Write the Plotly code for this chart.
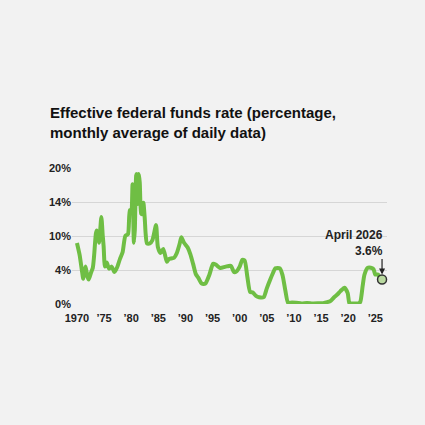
import plotly.graph_objects as go

# Effective federal funds rate, key monthly observations (percent)
dates = [
    "1970-01", "1970-07", "1970-12", "1971-03", "1971-05", "1971-08", "1971-12", "1972-03",
    "1972-08", "1972-12", "1973-03", "1973-07", "1973-09", "1973-12", "1974-02", "1974-07",
    "1974-10", "1974-12", "1975-03", "1975-07", "1975-12", "1976-06", "1976-12", "1977-06",
    "1977-12", "1978-06", "1978-12", "1979-06", "1979-10", "1980-01", "1980-04", "1980-07",
    "1980-09", "1980-12", "1981-01", "1981-03", "1981-06", "1981-08", "1981-11", "1982-01",
    "1982-04", "1982-07", "1982-09", "1982-12", "1983-06", "1983-12", "1984-08", "1984-12",
    "1985-06", "1985-12", "1986-08", "1986-12", "1987-06", "1987-12", "1988-06", "1988-12",
    "1989-04", "1989-10", "1990-06", "1990-12", "1991-06", "1991-12", "1992-06", "1993-01",
    "1993-09", "1994-06", "1995-02", "1995-08", "1996-06", "1997-06", "1998-06", "1998-12",
    "1999-06", "2000-01", "2000-07", "2000-12", "2001-06", "2001-12", "2002-06", "2003-01",
    "2003-08", "2004-06", "2005-01", "2005-08", "2006-03", "2006-08", "2007-06", "2007-12",
    "2008-06", "2008-12", "2009-06", "2010-06", "2011-06", "2012-06", "2013-06", "2014-06",
    "2015-06", "2015-12", "2016-09", "2017-06", "2018-01", "2018-08", "2019-05", "2019-12",
    "2020-04", "2020-10", "2021-06", "2021-12", "2022-04", "2022-09", "2023-01", "2023-08",
    "2024-03", "2024-09", "2025-01", "2025-07", "2025-11", "2026-04",
]
rates = [
    8.98, 7.2, 4.9, 3.7, 4.6, 5.5, 4.1, 3.6,
    4.6, 5.3, 7.1, 10.4, 10.8, 9.9, 9.0, 12.8,
    10.1, 8.5, 5.5, 6.1, 5.2, 5.5, 4.7, 5.4,
    6.6, 7.6, 10.0, 10.3, 13.8, 13.8, 17.6, 9.0,
    10.9, 18.9, 19.1, 14.7, 19.1, 17.8, 13.3, 13.2,
    14.9, 12.6, 10.3, 8.9, 8.9, 9.4, 11.6, 8.4,
    7.5, 8.1, 6.2, 6.6, 6.7, 6.8, 7.5, 8.8,
    9.8, 9.0, 8.3, 7.3, 5.9, 4.4, 3.8, 3.0,
    3.0, 4.3, 5.9, 5.8, 5.3, 5.5, 5.6, 4.7,
    4.8, 5.5, 6.5, 6.4, 4.0, 1.8, 1.7, 1.2,
    1.0, 1.0, 2.3, 3.5, 4.6, 5.25, 5.25, 4.2,
    2.0, 0.16, 0.2, 0.18, 0.09, 0.16, 0.09, 0.1,
    0.13, 0.24, 0.4, 1.0, 1.4, 1.9, 2.4, 1.6,
    0.05, 0.09, 0.08, 0.08, 0.33, 2.6, 4.3, 5.3,
    5.33, 5.13, 4.33, 4.33, 3.9, 3.6,
]

tick_vals = ["1970-01-01", "1975-01-01", "1980-01-01", "1985-01-01", "1990-01-01", "1995-01-01",
             "2000-01-01", "2005-01-01", "2010-01-01", "2015-01-01", "2020-01-01", "2025-01-01"]
tick_text = ["1970", "’75", "’80", "’85", "’90", "’95", "’00", "’05", "’10", "’15", "’20", "’25"]
y_vals = [0, 5, 10, 15, 20]
y_text = ["0%", "4%", "10%", "14%", "20%"]

green = "#6fbe44"
bg = "#f2f2f2"
font_family = "Liberation Sans Narrow, Arial Narrow, Liberation Sans, sans-serif"

fig = go.Figure()
fig.add_trace(go.Scatter(
    x=dates, y=rates, mode="lines",
    line=dict(color=green, width=4, shape="spline", smoothing=0.6),
    hoverinfo="skip", cliponaxis=False,
))
fig.add_trace(go.Scatter(
    x=[dates[-1]], y=[rates[-1]], mode="markers",
    marker=dict(size=9, color="#b9d9a0", line=dict(color="#333333", width=1.5)),
    hoverinfo="skip", cliponaxis=False,
))

fig.update_layout(
    width=425, height=425,
    margin=dict(l=72, r=38, t=168, b=121),
    paper_bgcolor=bg, plot_bgcolor=bg,
    showlegend=False,
    font=dict(family=font_family, color="#222222", size=11),
    title=dict(
        text="<b>Effective federal funds rate (percentage,<br>monthly average of daily data)</b>",
        x=50 / 425, xref="container", xanchor="left",
        y=1 - 118 / 425, yref="container", yanchor="top",
        font=dict(family=font_family, size=15, color="#111111"),
    ),
    xaxis=dict(
        type="date",
        range=["1969-02-01", "2027-03-01"],
        tickvals=tick_vals, ticktext=tick_text,
        showgrid=False, zeroline=False, showline=False, ticks="",
        ticklabelstandoff=6,
        tickfont=dict(family=font_family, size=11, color="#222222", weight="bold"),
    ),
    yaxis=dict(
        range=[0, 20],
        tickvals=y_vals, ticktext=y_text,
        showgrid=True, gridcolor="#d6d6d6", gridwidth=1,
        zeroline=False, showline=False, ticks="",
        tickfont=dict(family=font_family, size=11, color="#222222", weight="bold"),
    ),
    annotations=[
        dict(
            x=dates[-1], y=rates[-1], xref="x", yref="y",
            text="<b>April 2026<br>3.6%</b>", showarrow=False,
            xanchor="right", yanchor="bottom", align="right",
            xshift=3, yshift=20,
            font=dict(family=font_family, size=12, color="#222222"),
        ),
        dict(
            x=dates[-1], y=rates[-1], xref="x", yref="y",
            text="", showarrow=True, arrowhead=2, arrowsize=1, arrowwidth=1.2,
            arrowcolor="#222222", ax=0, ay=-22, standoff=5,
        ),
    ],
)

fig.write_html("out.html")
